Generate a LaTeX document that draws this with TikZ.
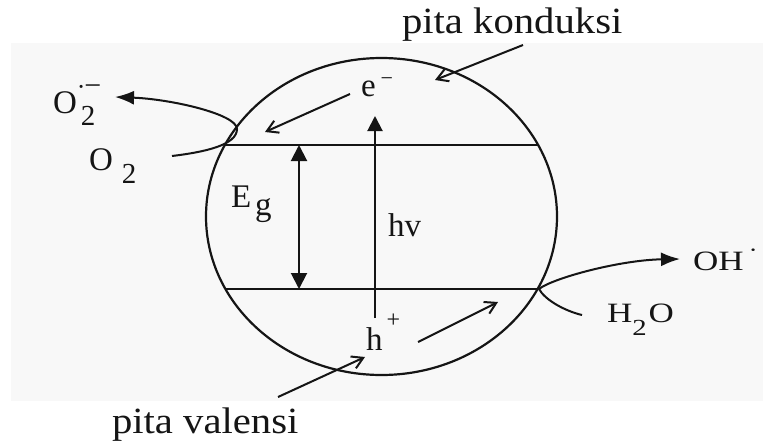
\documentclass[tikz,border=0pt]{standalone}
\usepackage{fontspec}
\setmainfont{Liberation Serif}
\newfontfamily\bandfont{Liberation Serif}[FakeStretch=1.1]
\newfontfamily\widefont{Liberation Serif}[FakeStretch=1.25]
\usetikzlibrary{arrows.meta,shapes.geometric}
\definecolor{Paper}{HTML}{F8F8F8}
\definecolor{Ink}{HTML}{151515}

\begin{document}
\begin{tikzpicture}[x=1pt,y=-1pt,
  line width=2pt,
  band/.style={font=\bandfont\fontsize{37}{40}\selectfont,inner sep=0pt,anchor=base west,text=Ink},
  lbl/.style={font=\fontsize{33}{36}\selectfont,inner sep=0pt,anchor=base west,text=Ink},
  wlbl/.style={font=\widefont\fontsize{28}{30}\selectfont,inner sep=0pt,anchor=base west,text=Ink},
  pointer/.style={-{Straight Barb[length=11pt,width=13pt]},draw=Ink},
  flow/.style={-{Latex[length=19pt,width=14pt]},draw=Ink},
  gaparrow/.style={{Triangle[length=16pt,width=16pt]}-{Triangle[length=16pt,width=16pt]},draw=Ink}
]
\useasboundingbox (0,0) rectangle (765,442);
\path[fill=Paper] (11,43) rectangle (763,401);

% particle and bands
\node[draw=Ink,ellipse,minimum width=351pt,minimum height=317pt,inner sep=0pt,line width=2.2pt] (particle) at (381.5,216.5) {};
\coordinate (cbL) at (225,145);
\coordinate (cbR) at (538,145);
\coordinate (vbL) at (225.5,289);
\coordinate (vbR) at (537.5,289);
\draw[Ink] (cbL) -- (cbR);
\draw[Ink] (vbL) -- (vbR);

% labels
\node[band] (konduksi) at (401,33) {pita konduksi};
\node[band] (valensi) at (111,433) {pita valensi};
\node[lbl] (gap) at (230,207) {E\kern4pt\raisebox{-8pt}{g}};
\node[lbl] (photon) at (387,236) {hv};
\node[lbl] (elec) at (360,96) {e\kern5pt\raisebox{11pt}{\fontsize{22}{22}\selectfont −}};
\node[lbl] (hole) at (365,350) {h\kern4pt\raisebox{23pt}{\fontsize{24}{24}\selectfont +}};
\node[lbl] (superox) at (52,113) {O\rlap{\kern0pt\raisebox{18pt}{{\fontsize{26}{26}\selectfont ·}\kern-1pt{\fontsize{30}{30}\selectfont −}}}\kern4pt\raisebox{-12pt}{\fontsize{29}{29}\selectfont 2}};
\node[lbl] (oxy) at (88,170) {O\kern9pt\raisebox{-13pt}{\fontsize{29}{29}\selectfont 2}};
\node[wlbl] (hydroxyl) at (692,270) {OH\kern5pt\raisebox{13pt}{\fontsize{22}{22}\selectfont ·}};
\node[wlbl] (water) at (606,322) {H\raisebox{-13pt}{\fontsize{23}{23}\selectfont 2}\kern2pt O};

% band gap and photon
\coordinate (gtop) at (299,145);
\coordinate (gbot) at (299,289);
\draw[gaparrow] (gtop) -- (gbot);
\coordinate (hvfoot) at (375,318);
\coordinate (hvtip) at (375,116);
\draw[-{Triangle[length=15pt,width=15pt]},draw=Ink] (hvfoot) -- (hvtip);

% pointers
\coordinate (kfrom) at (523,45);
\coordinate (kto) at (435,80);
\coordinate (efrom) at (350,94);
\coordinate (eto) at (265,132);
\coordinate (vfrom) at (278,397);
\coordinate (vto) at (365,357);
\coordinate (hfrom) at (418,342);
\coordinate (hto) at (498,302);
\draw[pointer] (kfrom) -- (kto);
\draw[pointer] (efrom) -- (eto);
\draw[pointer] (vfrom) -- (vto);
\draw[pointer] (hfrom) -- (hto);

% redox hooks
\coordinate (o2in) at (172,156);
\coordinate (o2turn) at (237,129);
\coordinate (o2out) at (115,97);
\draw[flow] (o2in) .. controls (205,152) and (237,145) .. (o2turn) .. controls (237,114) and (170,99) .. (o2out);
\coordinate (h2oin) at (582,315);
\coordinate (ohturn) at (539,289);
\coordinate (ohout) at (680,259);
\draw[flow] (h2oin) .. controls (565,311) and (545,300) .. (ohturn) .. controls (553,278) and (620,260) .. (ohout);
\end{tikzpicture}
\end{document}
